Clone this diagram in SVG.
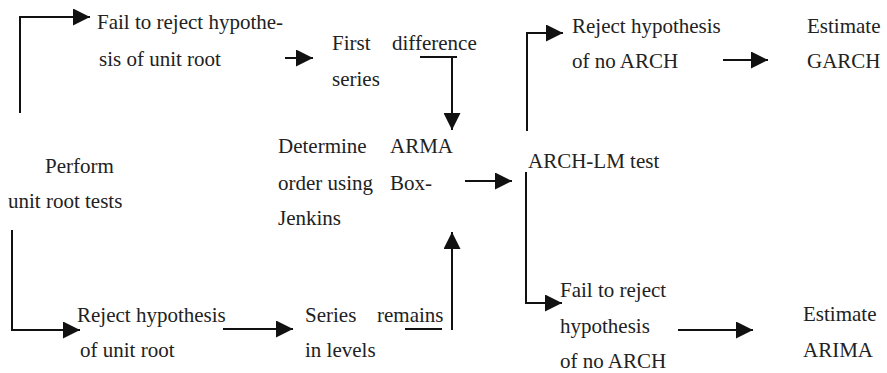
<svg xmlns="http://www.w3.org/2000/svg" width="887" height="373" viewBox="0 0 887 373">
<style>
text{font-family:"Liberation Serif","Times New Roman",serif;font-size:21px;fill:#222}
.c{fill:none;stroke:#111;stroke-width:2}
</style>
<defs>
<marker id="ah" markerUnits="userSpaceOnUse" markerWidth="17" markerHeight="17" refX="17" refY="8.5" orient="auto">
<path d="M0,0 L17,8.5 L0,17 z" fill="#111"/>
</marker>
</defs>
<rect width="887" height="373" fill="#fff"/>
<g id="perform"><text x="45" y="173">Perform</text><text x="8" y="208">unit root tests</text></g>
<g id="fail-unit"><text x="97" y="29">Fail to reject hypothe-</text><text x="99" y="66">sis of unit root</text></g>
<g id="first-diff"><text x="332" y="50">First</text><text x="392" y="50">difference</text><text x="332" y="86">series</text></g>
<g id="reject-unit"><text x="77" y="322">Reject hypothesis</text><text x="80" y="357">of unit root</text></g>
<g id="levels"><text x="305" y="322">Series</text><text x="377" y="322">remains</text><text x="305" y="357">in levels</text></g>
<g id="arma"><text x="278" y="153">Determine</text><text x="390" y="153">ARMA</text><text x="278" y="190">order using</text><text x="390" y="190">Box-</text><text x="278" y="225">Jenkins</text></g>
<g id="archlm"><text x="528" y="168">ARCH-LM test</text></g>
<g id="reject-arch"><text x="572" y="33">Reject hypothesis</text><text x="572" y="68">of no ARCH</text></g>
<g id="garch"><text x="807" y="33">Estimate</text><text x="807" y="68">GARCH</text></g>
<g id="fail-arch"><text x="560" y="297">Fail to reject</text><text x="560" y="333">hypothesis</text><text x="560" y="368">of no ARCH</text></g>
<g id="arima"><text x="803" y="321">Estimate</text><text x="803" y="357">ARIMA</text></g>
<g id="connectors">
<path class="c" d="M20,113 V17 H90" marker-end="url(#ah)"/>
<path class="c" d="M285,58 H313" marker-end="url(#ah)"/>
<path class="c" d="M420,57 H457"/>
<path class="c" d="M452,57 V130" marker-end="url(#ah)"/>
<path class="c" d="M12,230 V330 H80" marker-end="url(#ah)"/>
<path class="c" d="M223,329 H293" marker-end="url(#ah)"/>
<path class="c" d="M405,329 H442"/>
<path class="c" d="M452,330 V232" marker-end="url(#ah)"/>
<path class="c" d="M465,181 H512" marker-end="url(#ah)"/>
<path class="c" d="M527,131 V33 H563" marker-end="url(#ah)"/>
<path class="c" d="M723,60 H768" marker-end="url(#ah)"/>
<path class="c" d="M526,172 V303 H562" marker-end="url(#ah)"/>
<path class="c" d="M678,330 H753" marker-end="url(#ah)"/>
</g>
</svg>
